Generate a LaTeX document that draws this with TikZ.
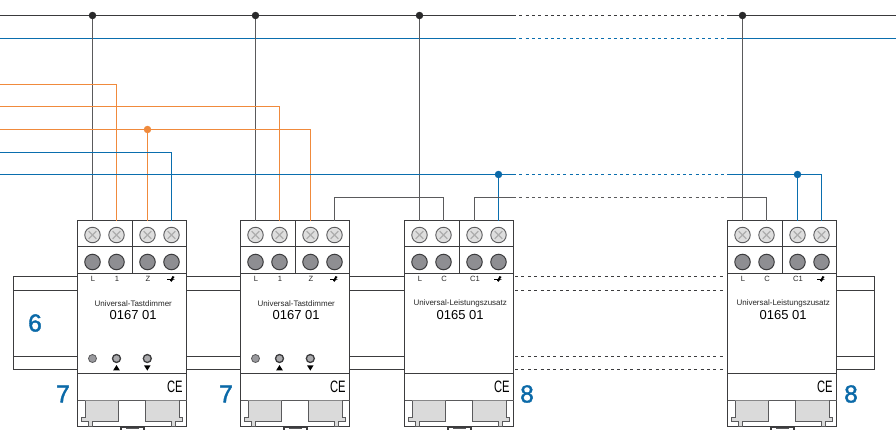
\documentclass[tikz,border=0pt]{standalone}
\usepackage{fontspec}
\setmainfont{Liberation Sans}
\newfontfamily\medfont[FakeBold=1.6]{Liberation Sans}
\definecolor{wblue}{HTML}{0A6EAE}
\definecolor{nblue}{HTML}{0A69A8}
\definecolor{worange}{HTML}{F08A3C}
\definecolor{wblack}{HTML}{3A3A3C}
\definecolor{wgray}{HTML}{5A5A5C}
\definecolor{frame}{HTML}{3C3C3E}
\definecolor{clipgray}{HTML}{DADADA}
\definecolor{screwtop}{HTML}{DEDEDE}
\definecolor{screwlow}{HTML}{8E8E92}
\tikzset{
  blk/.style={draw=wblack,line width=1.2pt},
  drp/.style={draw=wgray,line width=1.2pt},
  blu/.style={draw=wblue,line width=1.2pt},
  org/.style={draw=worange,line width=1.2pt},
  dots/.style={dash pattern=on 3pt off 3.3pt},
  railline/.style={draw=frame,line width=.9pt},
  raildots/.style={draw=frame,line width=.9pt,dash pattern=on 3pt off 3.4pt},
  casing/.style={draw=frame,line width=1.1pt,fill=white},
  partline/.style={draw=frame,line width=1.1pt},
  junction/.style={circle,inner sep=0pt,minimum size=7.5pt},
  screwa/.style={circle,draw=wgray,line width=.9pt,fill=screwtop,inner sep=0pt,minimum size=15.5pt},
  screwb/.style={circle,draw=frame,line width=1pt,fill=screwlow,inner sep=0pt,minimum size=15.5pt},
  termlabel/.style={inner sep=0pt,text=black!85,font=\fontsize{7.6}{8}\selectfont},
  titlelabel/.style={inner sep=0pt,text=black!85,font=\fontsize{8}{9}\selectfont},
  numlabel/.style={inner sep=0pt,text=black,font=\fontsize{13}{14}\selectfont},
  bigno/.style={inner sep=0pt,text=nblue,font=\medfont\fontsize{24.5}{26}\selectfont},
  cemark/.style={inner sep=0pt,text=black,font=\fontsize{16.5}{17}\selectfont},
  ledplain/.style={circle,draw=wgray,line width=.8pt,fill=screwlow!90,inner sep=0pt,minimum size=8pt},
  ledring/.style={circle,draw=frame,line width=1.3pt,fill=screwlow!75,inner sep=0pt,minimum size=8pt},
  clipbody/.style={draw=wgray,line width=1pt,fill=clipgray,line join=miter},
}
% #1 name, #2 left edge, #3 #4 #5 labels, #6 title, #7 number
\newcommand{\dinmodule}[7]{%
  \begin{scope}[shift={(#2,0)}]
    % pin below the case
    \draw[partline,fill=white] (43.5,429.5) -- (43.5,427.5) -- (66.5,427.5) -- (66.5,429.5);
    \fill[wgray] (48.5,427.8) rectangle (61.5,429);
    % case
    \draw[casing] (0,220.5) rectangle (109,426.5);
    \draw[partline] (0,246.5) -- (109,246.5);
    \draw[partline] (0,273.5) -- (109,273.5);
    \draw[partline] (55,220.5) -- (55,273.5);
    \draw[partline] (0,373.5) -- (109,373.5);
    \draw[draw=wgray,line width=1.2pt] (0,400.5) -- (109,400.5);
    % clips
    \draw[clipbody] (7.6,400.5) -- (7.6,417.5) -- (4.3,417.5) -- (4.3,421) -- (11.3,421) -- (11.3,426) -- (15.3,426) -- (15.3,421) -- (41,421) -- (41,400.5);
    \draw[clipbody] (68.3,400.5) -- (68.3,421) -- (94,421) -- (94,426) -- (98,426) -- (98,421) -- (105,421) -- (105,417.5) -- (101.7,417.5) -- (101.7,400.5);
    % terminals
    \foreach \k/\xx/\lab in {1/15/#3,2/39/#4,3/70/#5,4/94/}{
      \node[screwa] (#1-a\k) at (\xx,235) {};
      \draw[black!32,line width=1.3pt] (\xx-3.8,235-3.8) -- (\xx+3.8,235+3.8) (\xx-3.8,235+3.8) -- (\xx+3.8,235-3.8);
      \node[screwb] (#1-b\k) at (\xx,262) {};
      \coordinate (#1-t\k) at (\xx,220.5);
      \node[termlabel] (#1-l\k) at (\xx+.5,279) {\lab};
    }
    % load symbol
    \draw[black,line width=.7pt] (89.5,278.9) -- (93,278.9);
    \fill[black] (92.5,280.6) -- (95.1,276) -- (97.1,277) -- (95.1,279.4) -- (97.5,279) -- (95.1,280.3) -- (94,281.8) -- cycle;
    % texts
    \node[titlelabel] (#1-title) at (55.7,303.2) {#6};
    \node[numlabel] (#1-no) at (55.7,315.2) {#7};
    \node[cemark] (#1-ce) at (97.3,386.5) {\scalebox{.68}[1]{CE}};
  \end{scope}%
}
% #1 name, #2 left edge
\newcommand{\dimmerleds}[2]{%
  \begin{scope}[shift={(#2,0)}]
    \node[ledplain] (#1-led1) at (15,358.5) {};
    \node[ledring] (#1-led2) at (39,358.5) {};
    \node[ledring] (#1-led3) at (69.8,358.5) {};
    \fill[black] (39,365) -- (42.3,370.3) -- (35.7,370.3) -- cycle;
    \fill[black] (69.8,370.6) -- (66.5,365.3) -- (73.1,365.3) -- cycle;
  \end{scope}%
}
\begin{document}
\begin{tikzpicture}[x=1pt,y=-1pt]
  \clip (0,0) rectangle (896,429);
  \fill[white] (0,0) rectangle (896,429);
  % rail
  \draw[railline] (187,276.5) -- (13.5,276.5) -- (13.5,369.5) -- (187,369.5);
  \draw[railline] (13.5,290.5) -- (187,290.5) (13.5,356.5) -- (187,356.5);
  \draw[railline] (187,276.5) -- (241,276.5) (187,290.5) -- (241,290.5) (187,356.5) -- (241,356.5) (187,369.5) -- (241,369.5);
  \draw[railline] (350,276.5) -- (404,276.5) (350,290.5) -- (404,290.5) (350,356.5) -- (404,356.5) (350,369.5) -- (404,369.5);
  \draw[raildots] (515,276.5) -- (726,276.5);
  \draw[raildots] (515,290.5) -- (726,290.5);
  \draw[raildots] (515,356.5) -- (726,356.5);
  \draw[raildots] (515,369.5) -- (726,369.5);
  \draw[railline] (837,276.5) -- (874.5,276.5) -- (874.5,369.5) -- (837,369.5);
  \draw[railline] (837,290.5) -- (874.5,290.5) (837,356.5) -- (874.5,356.5);
  % devices
  \dinmodule{ma}{77.5}{L}{1}{Z}{Universal-Tastdimmer}{0167 01}
  \dimmerleds{ma}{77.5}
  \dinmodule{mb}{240.5}{L}{1}{Z}{Universal-Tastdimmer}{0167 01}
  \dimmerleds{mb}{240.5}
  \dinmodule{mc}{404.5}{L}{C}{C1}{Universal-Leistungszusatz}{0165 01}
  \dinmodule{md}{727.5}{L}{C}{C1}{Universal-Leistungszusatz}{0165 01}
  % wiring reference points
  \coordinate (lineL) at (0,15.5);
  \coordinate (lineLa) at (513,15.5);
  \coordinate (lineLb) at (727,15.5);
  \coordinate (lineLe) at (896,15.5);
  \coordinate (lineN) at (0,38.5);
  \coordinate (lineNa) at (513,38.5);
  \coordinate (lineNb) at (727,38.5);
  \coordinate (lineNe) at (896,38.5);
  \coordinate (ora) at (0,84.5);
  \coordinate (orb) at (0,106.5);
  \coordinate (orc) at (0,129.5);
  \coordinate (bla) at (0,152.5);
  \coordinate (blb) at (0,174.5);
  \coordinate (blba) at (513,174.5);
  \coordinate (blbb) at (727,174.5);
  \coordinate (ctl) at (0,197.5);
  \coordinate (ctla) at (513,197.5);
  \coordinate (ctlb) at (727,197.5);
  % bus
  \draw[blk] (lineL) -- (lineLa);
  \draw[blk,dots] (lineLa) -- (lineLb);
  \draw[blk] (lineLb) -- (lineLe);
  \draw[blu] (lineN) -- (lineNa);
  \draw[blu,dots] (lineNa) -- (lineNb);
  \draw[blu] (lineNb) -- (lineNe);
  % L feeds
  \foreach \m/\j in {ma/ja,mb/jb,mc/jc,md/jd}{
    \draw[drp] (\m-t1) -- (\m-t1 |- lineL);
    \node[junction,fill=wblack!70!black] (\j) at (\m-t1 |- lineL) {};
  }
  % orange
  \draw[org] (ora) -- (ora -| ma-t2) -- (ma-t2);
  \draw[org] (orb) -- (orb -| mb-t2) -- (mb-t2);
  \draw[org] (orc) -- (orc -| mb-t3) -- (mb-t3);
  \draw[org] (ma-t3) -- (ma-t3 |- orc);
  \node[junction,fill=worange] (jo) at (ma-t3 |- orc) {};
  % blue
  \draw[blu] (bla) -- (bla -| ma-t4) -- (ma-t4);
  \draw[blu] (blb) -- (blba);
  \draw[blu,dots] (blba) -- (blbb);
  \draw[blu] (blbb) -- (blbb -| md-t4) -- (md-t4);
  \draw[blu] (mc-t4) -- (mc-t4 |- blb);
  \draw[blu] (md-t3) -- (md-t3 |- blb);
  \node[junction,fill=nblue] (je) at (mc-t4 |- blb) {};
  \node[junction,fill=nblue] (jf) at (md-t3 |- blb) {};
  % control
  \draw[drp] (mb-t4) -- (mb-t4 |- ctl) -- (ctl -| mc-t2) -- (mc-t2);
  \draw[drp] (mc-t3) -- (mc-t3 |- ctl) -- (ctla);
  \draw[drp,dots] (ctla) -- (ctlb);
  \draw[drp] (ctlb) -- (ctlb -| md-t2) -- (md-t2);
  % callouts
  \node[bigno] (n6) at (35,323) {6};
  \node[bigno] (n7a) at (63,394) {7};
  \node[bigno] (n7b) at (226,394) {7};
  \node[bigno] (n8a) at (527,394) {8};
  \node[bigno] (n8b) at (851,394) {8};
\end{tikzpicture}
\end{document}
